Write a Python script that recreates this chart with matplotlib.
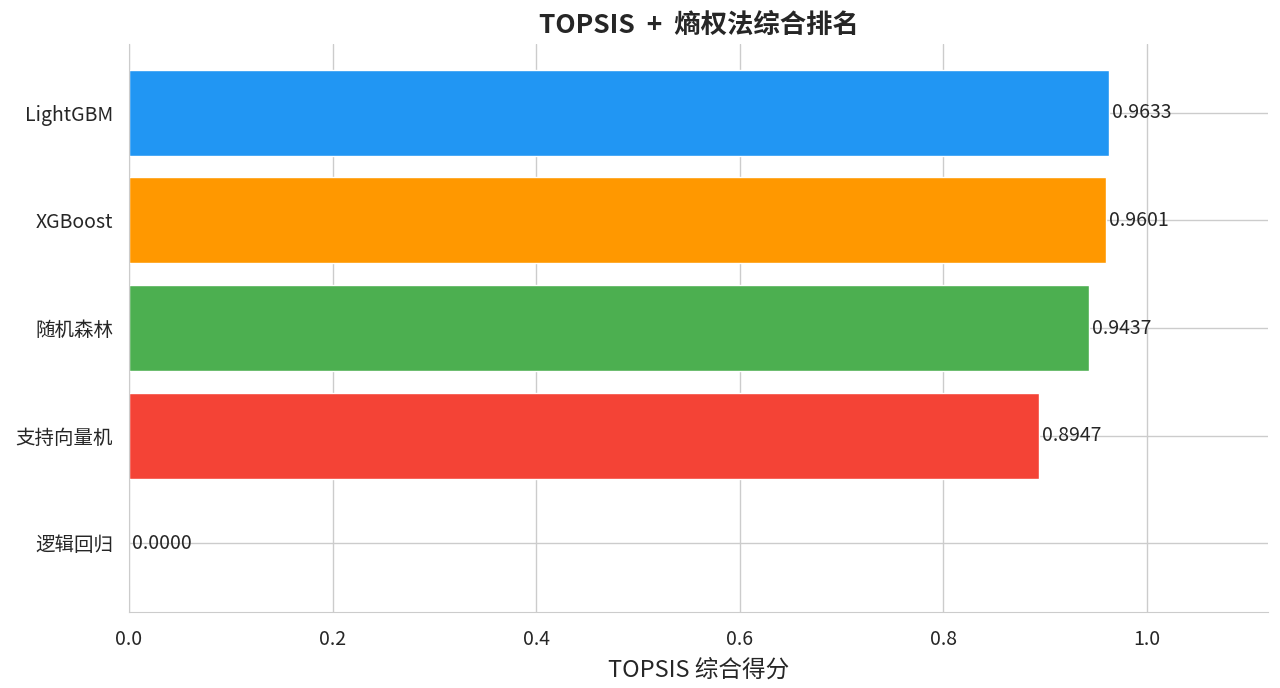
import matplotlib
matplotlib.use('Agg')
import matplotlib.pyplot as plt
import seaborn as sns

models = ['LightGBM', 'XGBoost', '随机森林', '支持向量机', '逻辑回归']
scores = [0.9633, 0.9601, 0.9437, 0.8947, 0.0000]
colors = ['#2196F3', '#FF9800', '#4CAF50', '#F44336', '#9C27B0']

sns.set_style('whitegrid')
plt.rcParams['font.family'] = ['Noto Sans CJK SC', 'DejaVu Sans']
plt.rcParams['axes.unicode_minus'] = False

fig = plt.figure(figsize=(12.8, 6.88), dpi=100)
ax = fig.add_axes([0.1008, 0.1105, 0.8898, 0.8255])

# reverse so the best model sits on top
ypos = list(range(len(models)))[::-1]
ax.barh(ypos, scores, height=0.8, color=colors, edgecolor='white', linewidth=1)
for y, s in zip(ypos, scores):
    ax.text(s + 0.003, y, f'{s:.4f}', va='center', ha='left', fontsize=14, color='#262626')

ax.set_yticks(ypos)
ax.set_yticklabels(models, fontsize=14)
ax.tick_params(axis='x', labelsize=14, pad=9)
ax.tick_params(axis='y', pad=8)
ax.set_xlim(0, max(scores) * 1.162)
ax.set_xlabel('TOPSIS 综合得分', fontsize=17, labelpad=6)
ax.set_title('TOPSIS  +  熵权法综合排名', fontsize=19, fontweight='bold', pad=8)
ax.grid(True, color='#cccccc', linewidth=1)
sns.despine(ax=ax)
for sp in ['left', 'bottom']:
    ax.spines[sp].set_color('#cccccc')

fig.savefig('out.png', dpi=100)
